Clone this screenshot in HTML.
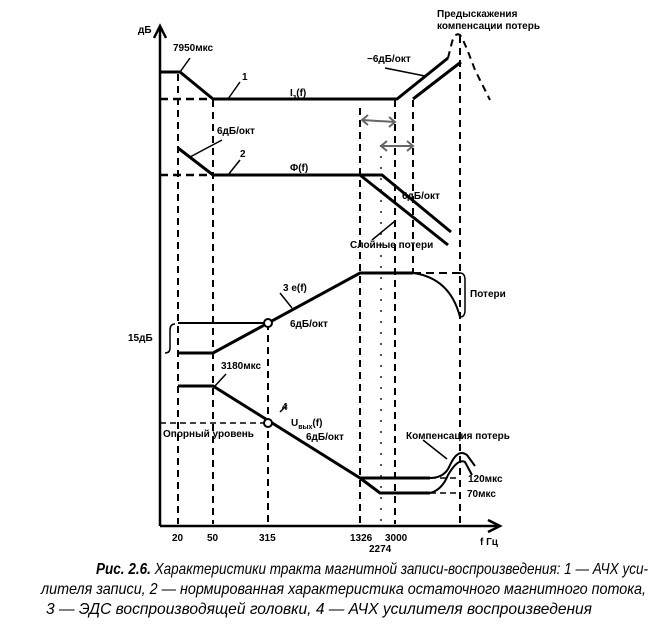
<!DOCTYPE html>
<html><head><meta charset="utf-8"><style>
body{margin:0;background:#fff}
svg{display:block}
text{font-family:"Liberation Sans",sans-serif;font-weight:bold;fill:#000}
.cap{font-style:italic;font-weight:bold;font-size:16px}
</style></head><body>
<svg width="668" height="628" viewBox="0 0 668 628" xmlns="http://www.w3.org/2000/svg">
<g stroke="#000" fill="none">
<line x1="160" y1="26" x2="160" y2="526" stroke-width="2.5"/>
<polyline points="154,38 160,26 166,38" stroke-width="2.5"/>
<line x1="160" y1="526" x2="500" y2="526" stroke-width="2.5"/>
<polyline points="488,520 500,526 488,532" stroke-width="2.5"/>
<g stroke-width="2" stroke-dasharray="7,5">
<line x1="178" y1="74" x2="178" y2="524"/>
<line x1="213" y1="100" x2="213" y2="524"/>
<line x1="268" y1="323" x2="268" y2="524"/>
<line x1="360" y1="108" x2="360" y2="524"/>
<line x1="395" y1="100" x2="395" y2="524"/>
<line x1="413" y1="100" x2="413" y2="272"/>
<line x1="460" y1="36" x2="460" y2="524"/>
</g>
<line x1="381" y1="145" x2="381" y2="524" stroke-width="2" stroke="#555" stroke-dasharray="2,9"/>
<polyline points="160,72 180,72 213,99 397,99 448,58" stroke-width="3"/>
<polyline points="413,99 461,62" stroke-width="3"/>
<line x1="160" y1="99" x2="213" y2="99" stroke-width="2.5" stroke-dasharray="8,5"/>
<polyline points="178,148 213,175 382,175 451,232" stroke-width="3"/>
<polyline points="360,175 448,245" stroke-width="3"/>
<line x1="160" y1="175" x2="213" y2="175" stroke-width="2.5" stroke-dasharray="8,5"/>
<polyline points="178,353 213,353 360,273 413,273" stroke-width="3"/>
<line x1="413" y1="273" x2="460" y2="273" stroke-width="2" stroke-dasharray="8,5"/>
<path d="M413,273 Q450,278 460,317" stroke-width="2"/>
<line x1="178" y1="323" x2="268" y2="323" stroke-width="2"/>
<circle cx="268" cy="323" r="4" stroke-width="2" fill="#fff"/>
<path d="M175,324 Q170,324 170,330 L170,348 Q170,353 165,353" stroke-width="1.5"/>
<path d="M460,273 Q465,273 465,280 L465,310 Q465,317 460,317" stroke-width="1.5"/>
<polyline points="178,386 213,386 360,478 430,478" stroke-width="3"/>
<polyline points="360,478 380,493 430,493" stroke-width="3"/>
<line x1="430" y1="478" x2="458" y2="478" stroke-width="1.5" stroke-dasharray="6,4"/>
<line x1="430" y1="493" x2="458" y2="493" stroke-width="1.5" stroke-dasharray="6,4"/>
<path d="M430,478 Q445,478 450,465 Q458,448 467,455 L475,466" stroke-width="2"/>
<path d="M430,493 Q442,490 448,475 Q458,458 465,462 L472,475" stroke-width="2"/>
<line x1="160" y1="423" x2="268" y2="423" stroke-width="1.5" stroke-dasharray="6,4"/>
<circle cx="268" cy="423" r="4" stroke-width="2" fill="#fff"/>
<path d="M448,58 L452,42 Q455,32 460,35 Q464,40 475,70 L490,100" stroke-width="2" stroke-dasharray="7,5"/>
<g stroke="#666" stroke-width="2">
<line x1="362" y1="120" x2="395" y2="122"/><polyline points="368,115 362,120 368,125"/><polyline points="389,117 395,122 389,127"/>
<line x1="381" y1="146" x2="413" y2="146"/><polyline points="387,141 381,146 387,151"/><polyline points="407,141 413,146 407,151"/>
</g>
<g stroke-width="1.5">
<line x1="190" y1="58" x2="180" y2="72"/>
<line x1="228" y1="99" x2="240" y2="82"/>
<line x1="190" y1="157" x2="222" y2="140"/>
<line x1="228" y1="175" x2="240" y2="160"/>
<line x1="395" y1="221" x2="372" y2="240"/>
<line x1="385" y1="68" x2="425" y2="76"/>
<line x1="280" y1="293" x2="292" y2="308"/>
<line x1="215" y1="386" x2="226" y2="374"/>
<line x1="280" y1="412" x2="287" y2="405"/>
<line x1="423" y1="440" x2="447" y2="459"/>
</g>
</g>
<text x="138" y="33" font-size="10">дБ</text>
<text x="173" y="51" font-size="10">7950мкс</text>
<text x="242" y="80" font-size="10">1</text>
<text x="290" y="96" font-size="10">I<tspan font-size="7" dy="3">з</tspan><tspan dy="-3">(f)</tspan></text>
<text x="217" y="134" font-size="10">6дБ/окт</text>
<text x="240" y="157" font-size="10">2</text>
<text x="290" y="171" font-size="10">Φ(f)</text>
<text x="402" y="199" font-size="10">6дБ/окт</text>
<text x="350" y="248" font-size="10">Слойные потери</text>
<text x="367" y="62" font-size="10">−6дБ/окт</text>
<text x="437" y="17" font-size="10">Предыскажения</text>
<text x="437" y="29" font-size="10">компенсации потерь</text>
<text x="283" y="291" font-size="10">3 e(f)</text>
<text x="290" y="327" font-size="10">6дБ/окт</text>
<text x="470" y="297" font-size="10">Потери</text>
<text x="128" y="341" font-size="10">15дБ</text>
<text x="221" y="369" font-size="10">3180мкс</text>
<text x="282" y="410" font-size="10">4</text>
<text x="291" y="426" font-size="10">U<tspan font-size="7" dy="3">вых</tspan><tspan dy="-3">(f)</tspan></text>
<text x="306" y="440" font-size="10">6дБ/окт</text>
<text x="163" y="437" font-size="10">Опорный уровень</text>
<text x="406" y="439" font-size="10">Компенсация потерь</text>
<text x="468" y="482" font-size="10">120мкс</text>
<text x="467" y="497" font-size="10">70мкс</text>
<text x="172" y="541" font-size="10">20</text>
<text x="207" y="541" font-size="10">50</text>
<text x="259" y="541" font-size="10">315</text>
<text x="350" y="541" font-size="10">1326</text>
<text x="385" y="541" font-size="10">3000</text>
<text x="369" y="552" font-size="10">2274</text>
<text x="480" y="545" font-size="10">f  Гц</text>
<text class="cap" x="96" y="574" textLength="552" lengthAdjust="spacingAndGlyphs">Рис. 2.6. <tspan font-weight="normal">Характеристики тракта магнитной записи-воспроизведения: 1 — АЧХ уси-</tspan></text>
<text class="cap" font-weight="normal" style="font-weight:normal" x="41" y="594" textLength="605" lengthAdjust="spacingAndGlyphs">лителя записи, 2 — нормированная характеристика остаточного магнитного потока,</text>
<text class="cap" style="font-weight:normal" x="46" y="614" textLength="546" lengthAdjust="spacingAndGlyphs">3 — ЭДС воспроизводящей головки, 4 — АЧХ усилителя воспроизведения</text>
</svg>
</body></html>
